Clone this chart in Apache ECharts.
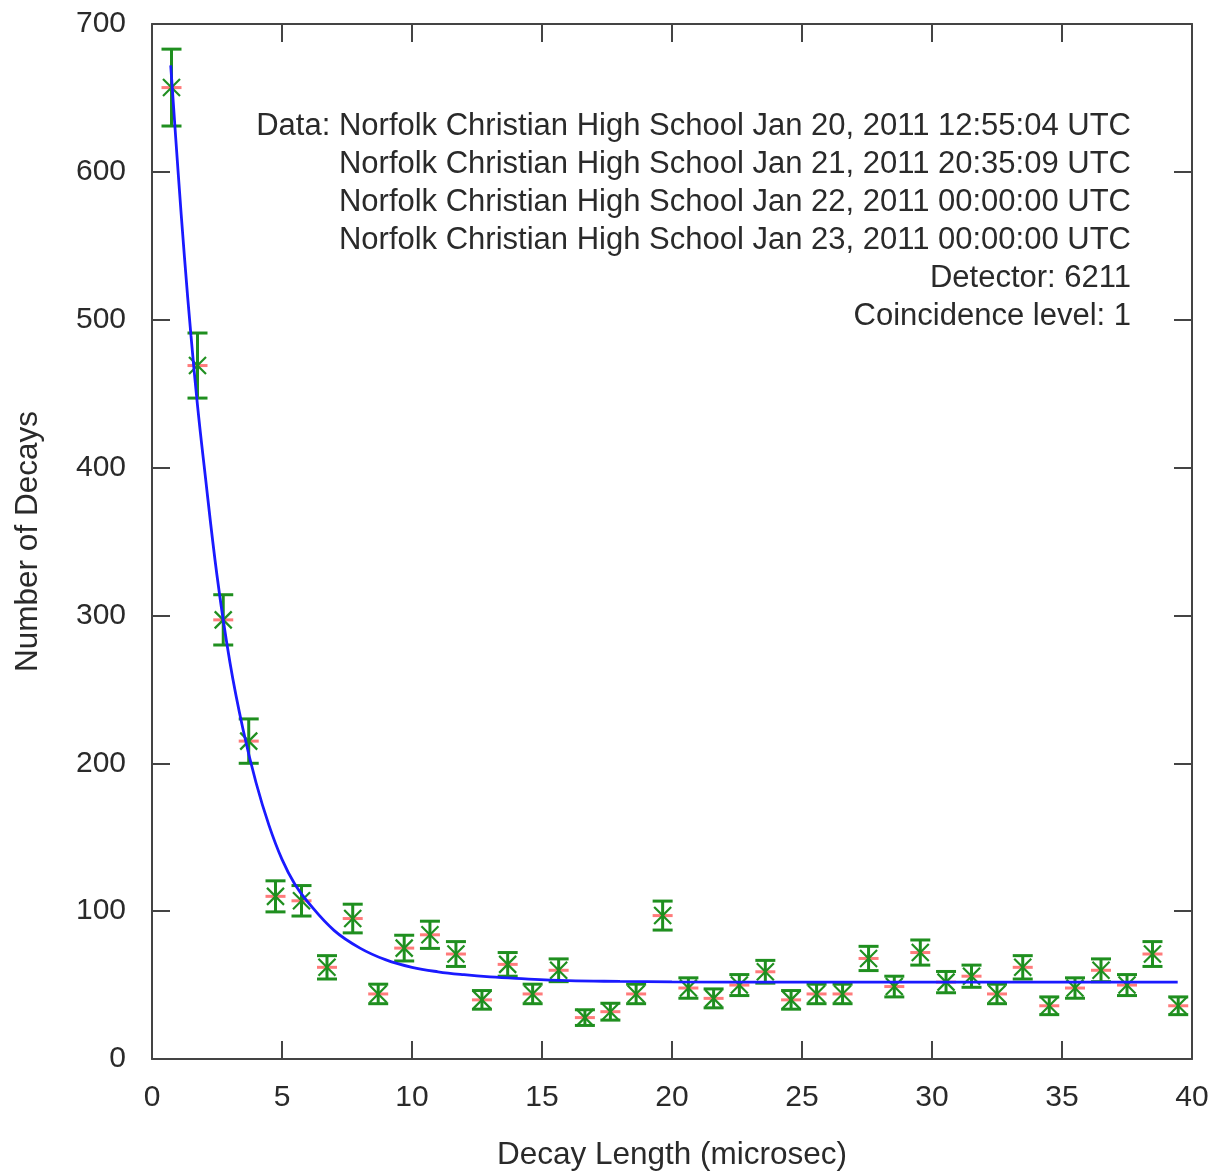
<!DOCTYPE html>
<html>
<head>
<meta charset="utf-8">
<script src="https://cdn.jsdelivr.net/npm/echarts@6/dist/echarts.min.js"></script>
<style>
html,body{margin:0;padding:0;background:#fff;}
#chart{width:1212px;height:1174px;}
</style>
</head>
<body>
<div id="chart"></div>
<script>
// Measured decay-time bins (microsec) and counts
var binX = [0.75,1.75,2.74,3.72,4.75,5.75,6.73,7.72,8.70,9.70,10.69,11.69,12.69,13.68,14.64,
            15.64,16.65,17.63,18.62,19.64,20.63,21.60,22.59,23.59,24.58,25.56,26.56,27.56,
            28.55,29.55,30.54,31.52,32.50,33.49,34.51,35.50,36.50,37.50,38.48,39.47];
var counts = [657,469,297,215,110,107,62,95,44,75,84,71,40,64,44,
              60,28,32,44,97,48,41,50,59,40,44,44,68,
              49,72,52,56,44,62,36,48,60,50,71,36];
var errors = [26,22,17,15,10.5,10.3,7.9,9.7,6.6,8.7,9.2,8.4,6.3,8,6.6,
              7.7,5.3,5.7,6.6,9.8,6.9,6.4,7.1,7.7,6.3,6.6,6.6,8.2,
              7,8.5,7.2,7.5,6.6,7.9,6,6.9,7.7,7.1,8.4,6];
// Fit curve
var fitX = [0.72,1.0,1.25,1.5,1.75,2.0,2.5,3.0,3.5,4.0,4.5,5.0,5.5,6.0,7,8,9,10,11,12,13,14,16,18,20,25,30,35,39.45];
var fitY = [672,601,542,489,442,402,327,268,223,187,158,135,118,106,87,75,67,62,59,57,55.5,54.5,53,52.5,52.2,52,52,52,52];
var noteLines = [
  "Data: Norfolk Christian High School Jan 20, 2011 12:55:04 UTC",
  "Norfolk Christian High School Jan 21, 2011 20:35:09 UTC",
  "Norfolk Christian High School Jan 22, 2011 00:00:00 UTC",
  "Norfolk Christian High School Jan 23, 2011 00:00:00 UTC",
  "Detector: 6211",
  "Coincidence level: 1"
];
var xTitle = "Decay Length (microsec)";
var yTitle = "Number of Decays";

var FONT = '"Liberation Sans", Arial, Helvetica, sans-serif';
var TXT = '#2a2a2a';
var AX = '#444';

var chart = echarts.init(document.getElementById('chart'), null, {renderer:'canvas'});

var pointData = binX.map(function(x,i){ return [x, counts[i], errors[i]]; });
var fitData = fitX.map(function(x,i){ return [x, fitY[i]]; });

var GREEN = '#1f8f1f';
var RED = '#ff5a5a';

function renderPoint(params, api){
  var x = api.value(0), y = api.value(1), e = api.value(2);
  var c = api.coord([x, y]);
  var top = api.coord([x, y + e]);
  var bot = api.coord([x, y - e]);
  var cap = 10, arm = 8.5, red = 10;
  var gs = {stroke: GREEN, lineWidth: 3};
  return {
    type: 'group',
    children: [
      {type:'line', shape:{x1:c[0]-red, y1:c[1], x2:c[0]+red, y2:c[1]}, style:{stroke:RED, lineWidth:3, opacity:0.8}},
      {type:'line', shape:{x1:c[0], y1:top[1], x2:c[0], y2:bot[1]}, style:gs},
      {type:'line', shape:{x1:c[0]-cap, y1:top[1], x2:c[0]+cap, y2:top[1]}, style:gs},
      {type:'line', shape:{x1:c[0]-cap, y1:bot[1], x2:c[0]+cap, y2:bot[1]}, style:gs},
      {type:'line', shape:{x1:c[0]-arm, y1:c[1]-arm, x2:c[0]+arm, y2:c[1]+arm}, style:{stroke:GREEN, lineWidth:2.2}},
      {type:'line', shape:{x1:c[0]-arm, y1:c[1]+arm, x2:c[0]+arm, y2:c[1]-arm}, style:{stroke:GREEN, lineWidth:2.2}}
    ]
  };
}

var axisCommon = {
  axisLine:{show:true, onZero:false, lineStyle:{color:AX, width:2}},
  axisTick:{show:true, inside:true, length:18, lineStyle:{color:AX, width:2}},
  splitLine:{show:false}
};

var option = {
  backgroundColor:'#fff',
  animation:false,
  grid:{left:152, right:20, top:24, bottom:115, containLabel:false, outerBoundsMode:'none'},
  xAxis:[
    Object.assign({
      type:'value', min:0, max:40, interval:5, position:'bottom',
      name:xTitle, nameLocation:'middle', nameGap:80,
      nameTextStyle:{fontFamily:FONT, fontSize:31.5, color:TXT},
      axisLabel:{fontFamily:FONT, fontSize:30, color:TXT, margin:24}
    }, axisCommon),
    Object.assign({
      type:'value', min:0, max:40, interval:5, position:'top',
      axisLabel:{show:false}
    }, axisCommon)
  ],
  yAxis:[
    Object.assign({
      type:'value', min:0, max:700, interval:100, position:'left',
      name:yTitle, nameLocation:'middle', nameGap:108, nameRotate:90,
      nameTextStyle:{fontFamily:FONT, fontSize:31.5, color:TXT},
      axisLabel:{fontFamily:FONT, fontSize:30, color:TXT, margin:26}
    }, axisCommon),
    Object.assign({
      type:'value', min:0, max:700, interval:100, position:'right',
      axisLabel:{show:false}
    }, axisCommon)
  ],
  graphic: noteLines.map(function(t, i){
    return {
      type:'text', right: 1212-1131, top: 111 + i*38,
      style:{text:t, fill:TXT, font:'31px ' + FONT, textAlign:'right'}
    };
  }),
  series:[
    {
      type:'custom', name:'data', xAxisIndex:0, yAxisIndex:0,
      data: pointData, renderItem: renderPoint, z:2,
      encode:{x:0, y:1}
    },
    {
      type:'line', name:'fit', xAxisIndex:0, yAxisIndex:0,
      data: fitData, showSymbol:false, smooth:0.4,
      lineStyle:{color:'#1a1aff', width:2.8}, z:3
    }
  ]
};
chart.setOption(option);
</script>
</body>
</html>
